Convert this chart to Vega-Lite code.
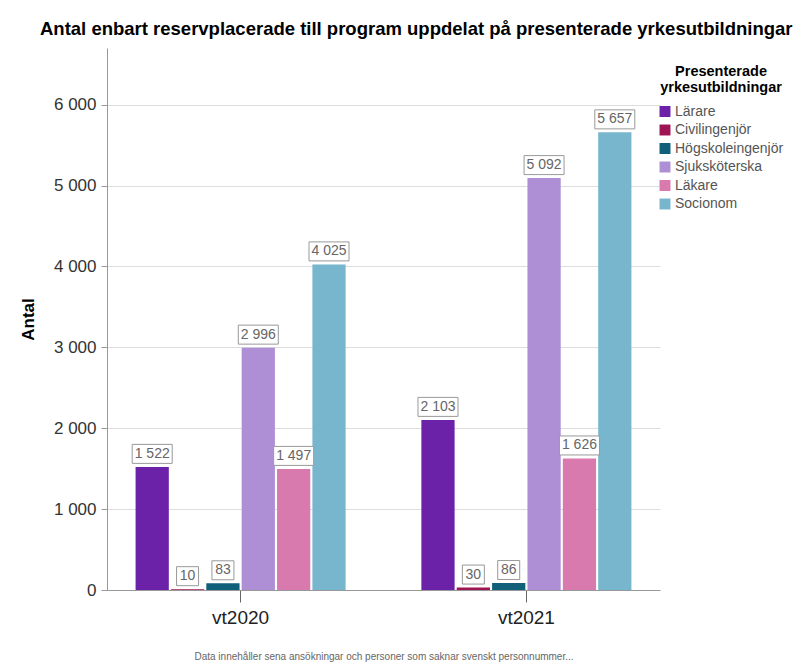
{
  "$schema": "https://vega.github.io/schema/vega-lite/v6.json",
  "width": 553,
  "height": 542,
  "autosize": {"type": "none"},
  "padding": {"left": 107, "top": 48, "right": 146, "bottom": 74},
  "config": {
    "locale": {"number": {"decimal": ",", "thousands": " ", "grouping": [3], "currency": ["", " kr"]}},
    "font": "Liberation Sans",
    "view": {"stroke": null}
  },
  "title": {
    "text": "Antal enbart reservplacerade till program uppdelat på presenterade yrkesutbildningar",
    "fontSize": 18.5,
    "fontWeight": "bold",
    "color": "#000",
    "anchor": "start",
    "frame": "group",
    "dx": -67,
    "offset": 10
  },
  "data": {
    "values": [
      {"termin": "vt2020", "utb": "Lärare", "antal": 1522},
      {"termin": "vt2020", "utb": "Civilingenjör", "antal": 10},
      {"termin": "vt2020", "utb": "Högskoleingenjör", "antal": 83},
      {"termin": "vt2020", "utb": "Sjuksköterska", "antal": 2996},
      {"termin": "vt2020", "utb": "Läkare", "antal": 1497},
      {"termin": "vt2020", "utb": "Socionom", "antal": 4025},
      {"termin": "vt2021", "utb": "Lärare", "antal": 2103},
      {"termin": "vt2021", "utb": "Civilingenjör", "antal": 30},
      {"termin": "vt2021", "utb": "Högskoleingenjör", "antal": 86},
      {"termin": "vt2021", "utb": "Sjuksköterska", "antal": 5092},
      {"termin": "vt2021", "utb": "Läkare", "antal": 1626},
      {"termin": "vt2021", "utb": "Socionom", "antal": 5657}
    ]
  },
  "encoding": {
    "x": {
      "field": "termin",
      "type": "nominal",
      "scale": {"paddingInner": 0.265, "paddingOuter": 0.1},
      "axis": {
        "title": "Data innehåller sena ansökningar och personer som saknar svenskt personnummer...",
        "titleFontSize": 10,
        "titleFontWeight": "normal",
        "titleColor": "#666",
        "titlePadding": 24,
        "labelAngle": 0,
        "labelFontSize": 19,
        "labelColor": "#222",
        "labelPadding": 6,
        "tickSize": 12,
        "tickColor": "#666",
        "domainColor": "#999"
      }
    },
    "xOffset": {
      "field": "utb",
      "type": "nominal",
      "sort": ["Lärare", "Civilingenjör", "Högskoleingenjör", "Sjuksköterska", "Läkare", "Socionom"],
      "scale": {"paddingInner": 0.06}
    },
    "y": {
      "field": "antal",
      "type": "quantitative",
      "scale": {"domain": [0, 6700], "nice": false},
      "axis": {
        "title": "Antal",
        "titleFontSize": 17,
        "titleFontWeight": "bold",
        "titleColor": "#000",
        "titlePadding": 16,
        "values": [0, 1000, 2000, 3000, 4000, 5000, 6000],
        "format": ",d",
        "labelFontSize": 17,
        "labelColor": "#333",
        "labelPadding": 5,
        "tickSize": 6,
        "tickColor": "#999",
        "domainColor": "#999",
        "gridColor": "#dddddd"
      }
    }
  },
  "layer": [
    {
      "mark": {"type": "bar"},
      "encoding": {
        "color": {
          "field": "utb",
          "type": "nominal",
          "scale": {
            "domain": ["Lärare", "Civilingenjör", "Högskoleingenjör", "Sjuksköterska", "Läkare", "Socionom"],
            "range": ["#6B22A8", "#9E1453", "#0F6078", "#AE8ED5", "#D97AAF", "#78B6CE"]
          },
          "legend": {
            "orient": "none",
            "legendX": 551,
            "legendY": 17,
            "title": ["Presenterade", "yrkesutbildningar"],
            "titleFontSize": 14.5,
            "titleFontWeight": "bold",
            "titleColor": "#000",
            "titleAnchor": "middle",
            "titleAlign": "center",
            "titleLineHeight": 16,
            "titlePadding": 9,
            "labelFontSize": 14,
            "labelColor": "#555",
            "labelOffset": 3,
            "symbolType": "square",
            "symbolSize": 120,
            "symbolStrokeWidth": 0,
            "rowPadding": 4.5
          }
        }
      }
    },
    {
      "transform": [{"filter": "datum.antal >= 1000"}],
      "mark": {
        "type": "point",
        "shape": "M-1,-0.475H1V0.475H-1Z",
        "size": 1600,
        "filled": true,
        "fill": "white",
        "stroke": "#999",
        "strokeWidth": 1,
        "opacity": 1,
        "yOffset": -13
      }
    },
    {
      "transform": [{"filter": "datum.antal < 1000"}],
      "mark": {
        "type": "point",
        "shape": "M-1,-0.864H1V0.864H-1Z",
        "size": 484,
        "filled": true,
        "fill": "white",
        "stroke": "#999",
        "strokeWidth": 1,
        "opacity": 1,
        "yOffset": -13
      }
    },
    {
      "mark": {
        "type": "text",
        "fontSize": 14,
        "color": "#666",
        "align": "center",
        "baseline": "middle",
        "yOffset": -13
      },
      "encoding": {
        "text": {"field": "antal", "type": "quantitative", "format": ",d"}
      }
    }
  ]
}
